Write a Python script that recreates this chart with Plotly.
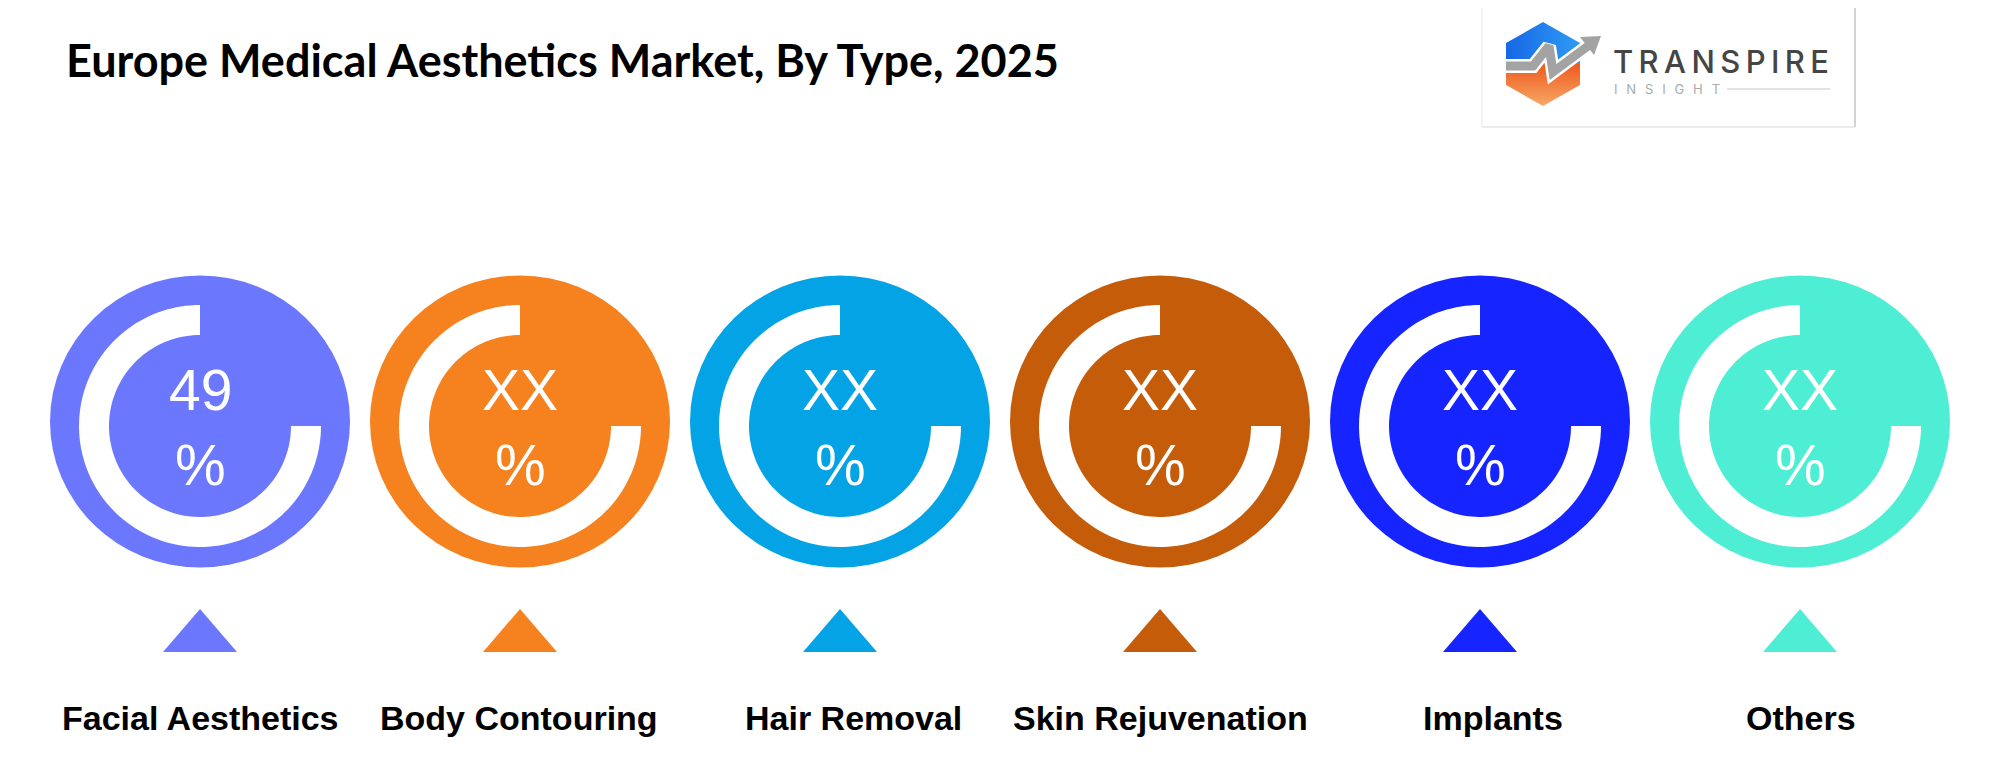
import numpy as np
import plotly.graph_objects as go

# ---------------- data ----------------
categories = ["Facial Aesthetics", "Body Contouring", "Hair Removal",
              "Skin Rejuvenation", "Implants", "Others"]
share_text = ["49", "XX", "XX", "XX", "XX", "XX"]
colors = ["#6B78FE", "#F5821F", "#04A3E6", "#C45C0A", "#1624FF", "#4EEED5"]
title_text = "Europe Medical Aesthetics Market, By Type, 2025"

# ---------------- layout constants ----------------
W, H = 1999, 760
PAGE_MARGIN = 8  # default body margin of the html page
X_START, X_STEP = 200, 320
CIRC_CY, CIRC_RX, CIRC_RY = 421.5, 150, 146
RING_CY, R_OUT, R_IN = 426, 121, 91
TRI_TOP, TRI_BASE, TRI_HALF = 609, 652, 37
LABEL_Y = 718
LABEL_DX = [0, -1, 13, 0, 13, 1]

fig = go.Figure()
shapes = []
annotations = []


def arc(cx, cy, r, a0, a1, n=120):
    t = np.radians(np.linspace(a0, a1, n))
    return cx + r * np.cos(t), cy - r * np.sin(t)


for i, (cat, txt, col) in enumerate(zip(categories, share_text, colors)):
    cx = X_START + i * X_STEP
    # background disc
    shapes.append(dict(type="circle", xref="x", yref="y",
                       x0=cx - CIRC_RX, x1=cx + CIRC_RX,
                       y0=CIRC_CY - CIRC_RY, y1=CIRC_CY + CIRC_RY,
                       fillcolor=col, line=dict(width=0), layer="below"))
    # white 270 degree ring
    ox, oy = arc(cx, RING_CY, R_OUT, 90, 360)
    ix, iy = arc(cx, RING_CY, R_IN, 360, 90)
    px = np.concatenate([ox, ix])
    py = np.concatenate([oy, iy])
    path = "M " + " L ".join(f"{a:.2f},{b:.2f}" for a, b in zip(px, py)) + " Z"
    shapes.append(dict(type="path", xref="x", yref="y", path=path,
                       fillcolor="white", line=dict(width=0), layer="below"))
    # triangle marker
    shapes.append(dict(type="path", xref="x", yref="y",
                       path=f"M {cx - TRI_HALF},{TRI_BASE} L {cx},{TRI_TOP} L {cx + TRI_HALF},{TRI_BASE} Z",
                       fillcolor=col, line=dict(width=0), layer="below"))
    # value text
    annotations.append(dict(x=cx, y=390, xref="x", yref="y", text=txt,
                            showarrow=False, xanchor="center", yanchor="middle",
                            font=dict(family="Liberation Sans, Arial", size=57, color="white")))
    annotations.append(dict(x=cx, y=465, xref="x", yref="y", text="%",
                            showarrow=False, xanchor="center", yanchor="middle",
                            font=dict(family="Liberation Sans, Arial", size=57, color="white")))
    # category label
    annotations.append(dict(x=cx + LABEL_DX[i], y=LABEL_Y, xref="x", yref="y", text=f"<b>{cat}</b>",
                            showarrow=False, xanchor="center", yanchor="middle",
                            font=dict(family="Liberation Sans, Arial", size=34, color="black")))

# title
annotations.append(dict(x=64, y=60, xref="x", yref="y", text=f"<b>{title_text}</b>",
                        showarrow=False, xanchor="left", yanchor="middle",
                        font=dict(family="Lato", size=45, color="black")))

# ---------------- logo ----------------
shapes.append(dict(type="line", xref="x", yref="y", x0=1482, x1=1482, y0=0, y1=127,
                   line=dict(color="#EEEEEE", width=1.5)))
shapes.append(dict(type="line", xref="x", yref="y", x0=1482, x1=1855, y0=127, y1=127,
                   line=dict(color="#E6E6E6", width=1.5)))
shapes.append(dict(type="line", xref="x", yref="y", x0=1855, x1=1855, y0=0, y1=127,
                   line=dict(color="#C4C4C4", width=1.5)))
# hexagon halves
fig.add_trace(go.Scatter(x=[1506, 1506, 1543, 1580, 1580, 1506],
                         y=[64, 43, 22, 43, 64, 64], mode="lines", fill="toself",
                         line=dict(width=0), hoverinfo="skip", showlegend=False,
                         fillgradient=dict(type="horizontal",
                                           colorscale=[[0, "#1667E6"], [1, "#2E9BF2"]])))
fig.add_trace(go.Scatter(x=[1506, 1580, 1580, 1543, 1506, 1506],
                         y=[64, 64, 85, 106, 85, 64], mode="lines", fill="toself",
                         line=dict(width=0), hoverinfo="skip", showlegend=False,
                         fillgradient=dict(type="vertical",
                                           colorscale=[[0, "#F7A866"], [1, "#EE5A1E"]])))
zx = [1506, 1533, 1549, 1553, 1588]
zy = [66, 66, 46, 72, 46]
fig.add_trace(go.Scatter(x=zx, y=zy, mode="lines", line=dict(color="white", width=14),
                         hoverinfo="skip", showlegend=False))
fig.add_trace(go.Scatter(x=zx, y=zy, mode="lines", line=dict(color="#A3A3A3", width=9),
                         hoverinfo="skip", showlegend=False))
fig.add_trace(go.Scatter(x=[1580, 1601, 1594, 1580], y=[37, 36, 55, 37], mode="lines",
                         fill="toself", fillcolor="#A3A3A3", line=dict(width=0),
                         hoverinfo="skip", showlegend=False))
annotations.append(dict(x=1611, y=61, xref="x", yref="y",
                        text="T\u2009R\u2009A\u2009N\u2009S\u2009P\u2009I\u2009R\u2009E",
                        showarrow=False, xanchor="left", yanchor="middle",
                        font=dict(family="Inter", size=31, color="#454545", weight=500)))
annotations.append(dict(x=1612, y=89, xref="x", yref="y",
                        text="I\u2002\u2009N\u2002\u2009S\u2002\u2009I\u2002\u2009G\u2002\u2009H\u2002\u2009T",
                        showarrow=False, xanchor="left", yanchor="middle",
                        font=dict(family="Inter", size=13, color="#ABABAB")))
shapes.append(dict(type="line", xref="x", yref="y", x0=1727, x1=1830, y0=89, y1=89,
                   line=dict(color="#DADADA", width=1.5)))

fig.update_layout(
    width=W - PAGE_MARGIN, height=H - PAGE_MARGIN,
    margin=dict(l=0, r=0, t=0, b=0),
    paper_bgcolor="white", plot_bgcolor="white",
    xaxis=dict(range=[PAGE_MARGIN, W], visible=False, fixedrange=True),
    yaxis=dict(range=[H, PAGE_MARGIN], visible=False, fixedrange=True),
    shapes=shapes, annotations=annotations, showlegend=False,
)

fig.write_html("out.html")
